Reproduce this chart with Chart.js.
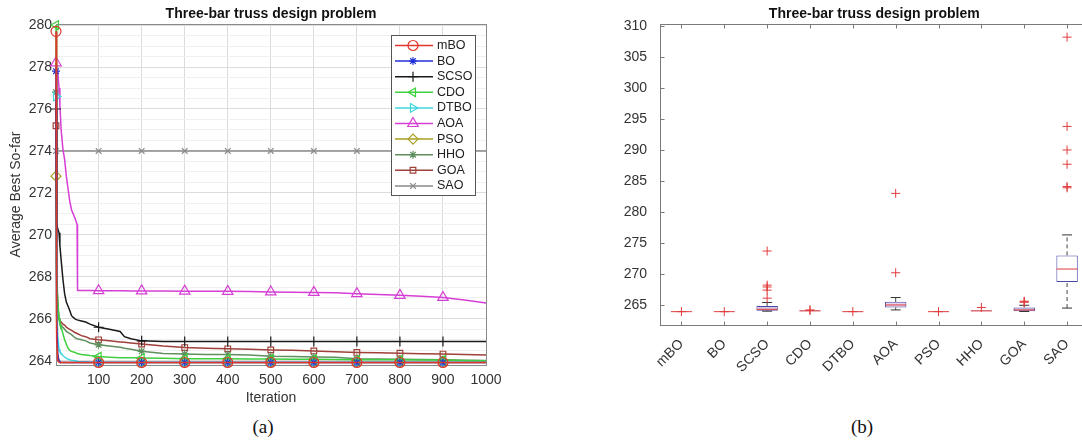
<!DOCTYPE html>
<html>
<head>
<meta charset="utf-8">
<script src="https://cdn.jsdelivr.net/npm/chart.js@4.4.1/dist/chart.umd.min.js"></script>
<style>
body { margin:0; width:1082px; height:444px; overflow:hidden; background:#fff; position:relative; }
canvas { position:absolute; top:0; }
#conv { left:0; }
#box { left:600px; }
.cap { position:absolute; top:416px; font:19px "Liberation Serif", "Times New Roman", serif; color:#111; transform:translateX(-50%); }
</style>
</head>
<body>
<canvas id="conv" width="540" height="410"></canvas>
<canvas id="box" width="500" height="410"></canvas>
<div class="cap" style="left:263px">(a)</div>
<div class="cap" style="left:862px">(b)</div>
<script>
// ---- (a) convergence curves ----
const iters = [1, 2, 3, 5, 8, 10, 13, 17, 21, 25, 29, 33, 37, 45, 50, 51, 60, 70, 80, 100,
  125, 150, 160, 175, 200, 250, 300, 350, 400, 450, 500, 550, 600, 650, 700, 750, 800, 850, 900, 950, 1000];
const markIters = [1, 100, 200, 300, 400, 500, 600, 700, 800, 900];
const xTicksLeft = [100, 200, 300, 400, 500, 600, 700, 800, 900, 1000];
const yTicksLeft = [264, 266, 268, 270, 272, 274, 276, 278, 280];

const mBO = [279.7, 271.0, 265.0, 264.0, 263.93, 263.92, 263.92, 263.92, 263.92, 263.92,
  263.92, 263.92, 263.92, 263.92, 263.92, 263.92, 263.92, 263.92, 263.92, 263.92,
  263.92, 263.92, 263.92, 263.92, 263.92, 263.92, 263.92, 263.92, 263.92, 263.92,
  263.92, 263.92, 263.92, 263.92, 263.92, 263.92, 263.92, 263.92, 263.92, 263.92, 263.92];
const BO = [277.8, 270.0, 266.0, 264.3, 264.0, 263.95, 263.93, 263.92, 263.92, 263.92,
  263.92, 263.92, 263.92, 263.92, 263.92, 263.92, 263.92, 263.92, 263.92, 263.92,
  263.92, 263.92, 263.92, 263.92, 263.92, 263.92, 263.92, 263.92, 263.92, 263.92,
  263.92, 263.92, 263.92, 263.92, 263.92, 263.92, 263.92, 263.92, 263.92, 263.92, 263.92];
const SCSO = [276.0, 272.0, 270.5, 270.3, 270.1, 269.5, 268.8, 267.9, 267.2, 266.8,
  266.6, 266.4, 266.15, 266.0, 265.95, 265.95, 265.9, 265.85, 265.75, 265.6,
  265.5, 265.4, 265.15, 265.05, 264.95, 264.92, 264.92, 264.92, 264.92, 264.92,
  264.92, 264.92, 264.92, 264.92, 264.92, 264.92, 264.92, 264.92, 264.92, 264.92, 264.92];
const CDO = [280.0, 272.0, 268.0, 266.8, 266.0, 265.8, 265.6, 265.3, 265.0, 264.8,
  264.6, 264.5, 264.45, 264.4, 264.35, 264.35, 264.3, 264.28, 264.25, 264.2,
  264.17, 264.15, 264.15, 264.14, 264.13, 264.12, 264.1, 264.1, 264.1, 264.08,
  264.08, 264.07, 264.07, 264.06, 264.05, 264.05, 264.05, 264.04, 264.04, 264.02, 264.0];
const DTBO = [276.6, 270.0, 267.0, 265.2, 264.55, 264.45, 264.35, 264.25, 264.18, 264.12,
  264.08, 264.05, 264.03, 264.0, 263.98, 263.97, 263.96, 263.95, 263.94, 263.93,
  263.93, 263.93, 263.93, 263.93, 263.93, 263.93, 263.93, 263.93, 263.93, 263.93,
  263.93, 263.93, 263.93, 263.93, 263.93, 263.93, 263.93, 263.93, 263.93, 263.93, 263.93];
const AOA = [278.2, 278.0, 277.9, 277.8, 277.0, 276.2, 275.0, 274.1, 273.6, 272.8,
  272.2, 271.6, 271.2, 270.8, 270.5, 267.35, 267.35, 267.35, 267.35, 267.34,
  267.34, 267.34, 267.34, 267.33, 267.33, 267.33, 267.32, 267.32, 267.31, 267.3,
  267.28, 267.27, 267.26, 267.24, 267.2, 267.16, 267.12, 267.08, 267.02, 266.9, 266.75];
const PSO = [272.8, 268.0, 265.5, 264.3, 264.0, 263.95, 263.93, 263.92, 263.92, 263.92,
  263.92, 263.92, 263.92, 263.92, 263.92, 263.92, 263.92, 263.92, 263.92, 263.92,
  263.92, 263.92, 263.92, 263.92, 263.92, 263.92, 263.92, 263.92, 263.92, 263.92,
  263.92, 263.92, 263.92, 263.92, 263.92, 263.92, 263.92, 263.92, 263.92, 263.92, 263.92];
const HHO = [276.8, 272.0, 268.5, 266.8, 266.0, 265.8, 265.7, 265.6, 265.5, 265.4,
  265.35, 265.3, 265.25, 265.1, 265.05, 265.05, 265.0, 264.95, 264.85, 264.76,
  264.7, 264.65, 264.6, 264.55, 264.45, 264.35, 264.32, 264.3, 264.3, 264.28,
  264.22, 264.2, 264.18, 264.17, 264.1, 264.08, 264.07, 264.06, 264.05, 264.03, 264.02];
const GOA = [275.2, 271.0, 268.0, 266.6, 266.0, 265.9, 265.85, 265.75, 265.7, 265.6,
  265.55, 265.5, 265.45, 265.35, 265.3, 265.3, 265.2, 265.15, 265.05, 265.0,
  264.95, 264.9, 264.88, 264.85, 264.8, 264.7, 264.63, 264.6, 264.57, 264.55,
  264.52, 264.5, 264.47, 264.43, 264.4, 264.38, 264.36, 264.34, 264.32, 264.3, 264.28];
const SAO = [274.0, 274.0, 274.0, 274.0, 274.0, 274.0, 274.0, 274.0, 274.0, 274.0,
  274.0, 274.0, 274.0, 274.0, 274.0, 274.0, 274.0, 274.0, 274.0, 274.0,
  274.0, 274.0, 274.0, 274.0, 274.0, 274.0, 274.0, 274.0, 274.0, 274.0,
  274.0, 274.0, 274.0, 274.0, 274.0, 274.0, 274.0, 274.0, 274.0, 274.0, 274.0];

// ---- (b) box plot ----
const cats = ['mBO', 'BO', 'SCSO', 'CDO', 'DTBO', 'AOA', 'PSO', 'HHO', 'GOA', 'SAO'];
const boxQ1 = [263.92, 263.92, 264.05, 264.0, 263.92, 264.6, 263.92, 263.98, 263.98, 268.7];
const boxQ3 = [263.92, 263.92, 264.85, 264.1, 263.92, 265.5, 263.92, 264.12, 264.6, 273.0];
const boxMed = [263.92, 263.92, 264.3, 264.05, 263.92, 265.0, 263.92, 264.05, 264.2, 270.8];
const whiskLo = [263.92, 263.92, 264.0, 264.0, 263.92, 264.2, 263.92, 263.98, 263.95, 264.5];
const whiskHi = [263.92, 263.92, 265.4, 264.1, 263.92, 266.2, 263.92, 264.12, 264.95, 276.3];
const outlierCat = ['mBO', 'BO', 'SCSO', 'SCSO', 'SCSO', 'SCSO', 'SCSO', 'CDO', 'CDO', 'DTBO',
  'AOA', 'AOA', 'PSO', 'HHO', 'GOA', 'GOA', 'GOA', 'SAO', 'SAO', 'SAO', 'SAO', 'SAO', 'SAO'];
const outlierVal = [263.92, 263.92, 273.7, 268.2, 267.9, 267.4, 266.1, 264.2, 264.12, 263.92,
  283.0, 270.2, 263.92, 264.6, 265.6, 265.5, 265.45, 308.2, 293.8, 290.0, 287.7, 284.1, 283.9];
const yTicksRight = [265, 270, 275, 280, 285, 290, 295, 300, 305, 310];

const boxFill = ['rgba(0,0,0,0)', 'rgba(0,0,0,0)', '#d4c6e6', 'rgba(0,0,0,0)', 'rgba(0,0,0,0)',
  '#e6d4ee', 'rgba(0,0,0,0)', '#d4c6e6', '#d4c6e6', '#ffffff'];

Chart.defaults.font.family = '"Liberation Sans", Arial, Helvetica, sans-serif';
Chart.defaults.color = '#333';

const titlePlugin = {
    id: 'topTitle',
    afterDraw(chart, args, opts) {
        const {ctx, chartArea} = chart;
        ctx.save();
        ctx.font = 'bold 14px "Liberation Sans", Arial, sans-serif';
        ctx.fillStyle = '#111';
        ctx.textAlign = 'center';
        ctx.textBaseline = 'middle';
        ctx.fillText(opts.text, (chartArea.left + chartArea.right) / 2, chartArea.top - 10);
        ctx.restore();
    }
};

const framePlugin = {
    id: 'frame',
    beforeDatasetsDraw(chart, args, opts) {
        const {ctx, chartArea: a} = chart;
        ctx.save();
        ctx.strokeStyle = opts.color;
        ctx.lineWidth = 1;
        const l = Math.round(a.left) + 0.5, t = Math.round(a.top) + 0.5;
        const r = Math.round(a.right) + 0.5, b = Math.round(a.bottom) + 0.5;
        ctx.strokeRect(l, t, r - l, b - t);
        if (opts.inTicks) {
            ctx.beginPath();
            chart.scales.y.ticks.forEach(tk => {
                const py = Math.round(chart.scales.y.getPixelForValue(tk.value)) + 0.5;
                ctx.moveTo(l, py); ctx.lineTo(l + 4, py);
            });
            cats.forEach((c, i) => {
                const px = Math.round(chart.scales.x.getPixelForValue(i)) + 0.5;
                ctx.moveTo(px, b); ctx.lineTo(px, b - 4);
                ctx.moveTo(px, t); ctx.lineTo(px, t + 4);
            });
            ctx.stroke();
        }
        ctx.restore();
    }
};

const legendPlugin = {
    id: 'legendBox',
    afterDatasetsDraw(chart, args, opts) {
        const {ctx} = chart;
        ctx.save();
        ctx.fillStyle = '#fff';
        ctx.fillRect(opts.x, opts.y, opts.w, opts.h);
        ctx.strokeStyle = '#555';
        ctx.lineWidth = 1;
        ctx.strokeRect(opts.x + 0.5, opts.y + 0.5, opts.w, opts.h);
        ctx.font = '12.5px "Liberation Sans", Arial, sans-serif';
        ctx.textBaseline = 'middle';
        chart.data.datasets.forEach((ds, i) => {
            const y = opts.y + 10.5 + i * 15.6;
            ctx.strokeStyle = ds.borderColor;
            ctx.lineWidth = ds.borderWidth;
            ctx.beginPath();
            ctx.moveTo(opts.x + 4, y);
            ctx.lineTo(opts.x + 42, y);
            ctx.stroke();
            ctx.fillStyle = 'rgba(0,0,0,0)';
            ctx.lineWidth = ds.pointBorderWidth;
            Chart.helpers.drawPoint(ctx, {
                pointStyle: ds.pointStyle, rotation: ds.pointRotation,
                radius: ds.markSize, borderWidth: ds.pointBorderWidth
            }, opts.x + 22, y);
            ctx.fillStyle = '#222';
            ctx.fillText(ds.label, opts.x + 46, y);
        });
        ctx.restore();
    }
};

function series(label, values, color, style, size, rotation) {
    return {
        label: label,
        data: iters.map((x, i) => ({x: x, y: values[i]})),
        borderColor: color,
        borderWidth: 1.5,
        pointStyle: style,
        pointRotation: rotation || 0,
        markSize: size,
        pointRadius: (ctx) => markIters.includes(iters[ctx.dataIndex]) ? size : 0,
        pointBorderColor: color,
        pointBackgroundColor: 'rgba(0,0,0,0)',
        pointBorderWidth: 1.2,
        tension: 0,
        clip: false
    };
}

new Chart(document.getElementById('conv'), {
    type: 'line',
    data: {
        datasets: [
            series('mBO', mBO, '#e0362c', 'circle', 5),
            series('BO', BO, '#2030d8', 'star', 4),
            series('SCSO', SCSO, '#1a1a1a', 'cross', 5),
            series('CDO', CDO, '#3ecf3e', 'triangle', 5, -90),
            series('DTBO', DTBO, '#3fd6e0', 'triangle', 5, 90),
            series('AOA', AOA, '#d63fd6', 'triangle', 6),
            series('PSO', PSO, '#a89f20', 'rectRot', 5),
            series('HHO', HHO, '#5f8f5f', 'star', 4),
            series('GOA', GOA, '#a0403a', 'rect', 4),
            series('SAO', SAO, '#8a8a8a', 'crossRot', 4)
        ]
    },
    options: {
        responsive: false,
        animation: false,
        events: [],
        layout: {padding: {top: 24, right: 54, left: 0, bottom: 0}},
        plugins: {
            legend: {display: false},
            tooltip: {enabled: false},
            topTitle: {text: 'Three-bar truss design problem'},
            frame: {color: '#8a8a8a'},
            legendBox: {x: 391, y: 35, w: 84, h: 160}
        },
        scales: {
            x: {
                type: 'linear',
                min: 1,
                max: 1000,
                afterBuildTicks: (scale) => { scale.ticks = xTicksLeft.map(v => ({value: v})); },
                afterFit: (scale) => { scale.height = 45; },
                ticks: {autoSkip: false, maxRotation: 0, padding: 7, font: {size: 14},
                    callback: (v) => String(v)},
                grid: {color: '#dcdcdc', drawTicks: false},
                border: {display: false},
                title: {display: true, text: 'Iteration', font: {size: 14}, padding: {top: 0, bottom: 3}}
            },
            y: {
                type: 'linear',
                min: 263.8,
                max: 280.05,
                afterBuildTicks: (scale) => {
                    const t = [];
                    for (let v = 264; v <= 280; v += 0.5) t.push({value: v});
                    scale.ticks = t;
                },
                afterFit: (scale) => { scale.width = 56; },
                ticks: {
                    autoSkip: false, padding: 4, font: {size: 14},
                    callback: (v) => yTicksLeft.includes(v) ? String(v) : ''
                },
                grid: {
                    drawTicks: false,
                    color: (ctx) => yTicksLeft.includes(ctx.tick && ctx.tick.value) ? '#dcdcdc' : '#f0f0f0'
                },
                border: {display: false},
                title: {display: true, text: 'Average Best So-far', font: {size: 14}, padding: {top: 8, bottom: 0}}
            }
        }
    },
    plugins: [framePlugin, legendPlugin, titlePlugin]
});

// whisker segments and caps from the box arrays
const whiskerPts = [];
const capPts = [];
cats.forEach((c, i) => {
    if (whiskHi[i] > boxQ3[i]) {
        whiskerPts.push({x: c, y: boxQ3[i]}, {x: c, y: whiskHi[i]}, {x: c, y: null});
        capPts.push({x: c, y: whiskHi[i]});
    }
    if (whiskLo[i] < boxQ1[i]) {
        whiskerPts.push({x: c, y: whiskLo[i]}, {x: c, y: boxQ1[i]}, {x: c, y: null});
        capPts.push({x: c, y: whiskLo[i]});
    }
});

new Chart(document.getElementById('box'), {
    type: 'bar',
    data: {
        labels: cats,
        datasets: [
            {
                type: 'line', label: 'Outliers',
                data: outlierCat.map((c, i) => ({x: c, y: outlierVal[i]})),
                showLine: false, pointStyle: 'cross', pointRadius: 4.5,
                pointBorderColor: '#e03c3c', pointBorderWidth: 1
            },
            {
                type: 'line', label: 'Median',
                data: cats.map((c, i) => ({x: c, y: boxMed[i]})),
                showLine: false, pointStyle: 'line', pointRadius: 10.5,
                pointBorderColor: '#e03c3c', pointBorderWidth: 1
            },
            {
                type: 'line', label: 'Caps',
                data: capPts,
                showLine: false, pointStyle: 'line', pointRadius: 5,
                pointBorderColor: '#333', pointBorderWidth: 1
            },
            {
                type: 'line', label: 'Whiskers',
                data: whiskerPts,
                borderColor: '#444', borderWidth: 1, borderDash: [4, 3],
                pointRadius: 0, spanGaps: false
            },
            {
                type: 'bar', label: 'Box',
                data: cats.map((c, i) => [boxQ1[i], boxQ3[i]]),
                backgroundColor: boxFill,
                borderColor: '#4a4aa6', borderWidth: 1, borderSkipped: false,
                barPercentage: 0.5, categoryPercentage: 1
            }
        ]
    },
    options: {
        responsive: false,
        animation: false,
        events: [],
        layout: {padding: {top: 24, right: 10, left: 0, bottom: 0}},
        plugins: {
            legend: {display: false},
            tooltip: {enabled: false},
            topTitle: {text: 'Three-bar truss design problem'},
            frame: {color: '#7a7a7a', inTicks: true}
        },
        scales: {
            x: {
                afterFit: (scale) => { scale.height = 85; },
                ticks: {autoSkip: false, minRotation: 45, maxRotation: 45, padding: 3, font: {size: 14}},
                grid: {display: false},
                border: {display: false}
            },
            y: {
                type: 'linear',
                min: 261.77,
                max: 310.32,
                afterBuildTicks: (scale) => { scale.ticks = yTicksRight.map(v => ({value: v})); },
                afterFit: (scale) => { scale.width = 60; },
                ticks: {autoSkip: false, padding: 5, font: {size: 14}},
                grid: {display: false},
                border: {display: false}
            }
        }
    },
    plugins: [framePlugin, titlePlugin]
});
</script>
</body>
</html>
